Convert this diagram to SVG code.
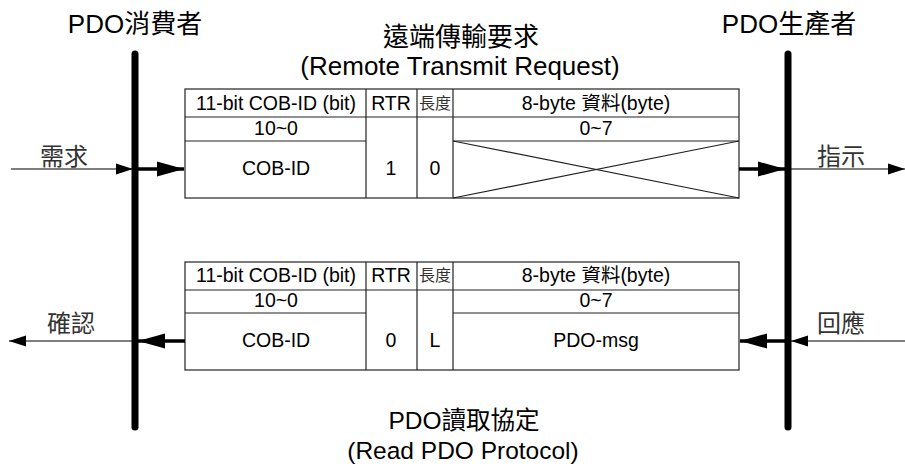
<svg xmlns="http://www.w3.org/2000/svg" width="905" height="466" viewBox="0 0 905 466">
<style>
text{font-family:"Liberation Sans","Noto Sans CJK TC",sans-serif;fill:#000}
.t{font-size:26px;text-anchor:middle}
.tb{font-size:24.5px;text-anchor:middle}
.c{font-size:24px;fill:#333}
.cell{font-size:19.5px;text-anchor:middle}
.sm{font-size:16px;text-anchor:middle;fill:#333}
.grid{fill:none;stroke:#222;stroke-width:1.2}
.bar{stroke:#000;stroke-width:7;stroke-linecap:round}
.thin{stroke:#000;stroke-width:1.2}
.thick{stroke:#000;stroke-width:3.5}
</style>
<defs>
<marker id="ah" markerUnits="userSpaceOnUse" markerWidth="18" markerHeight="12" refX="17" refY="6" orient="auto"><path d="M0,0.5L17,6L0,11.5z" fill="#000"/></marker>
<marker id="ahb" markerUnits="userSpaceOnUse" markerWidth="28" markerHeight="16" refX="27" refY="8" orient="auto"><path d="M0,0.5L27,8L0,15.5z" fill="#000"/></marker>
</defs>
<rect width="905" height="466" fill="#fff"/>

<g id="consumer">
<text class="t" x="135" y="33">PDO消費者</text>
<line class="bar" x1="135" y1="54" x2="135" y2="427"/>
</g>
<g id="producer">
<text class="t" x="789" y="33">PDO生產者</text>
<line class="bar" x1="788" y1="54" x2="788" y2="427"/>
</g>

<g id="title-top">
<text class="t" x="461" y="46">遠端傳輸要求</text>
<text class="t" x="460" y="75">(Remote Transmit Request)</text>
</g>
<g id="title-bottom">
<text class="tb" x="464" y="429">PDO讀取協定</text>
<text class="tb" x="463" y="459">(Read PDO Protocol)</text>
</g>

<g id="rtr-frame">
<rect class="grid" x="185" y="89" width="554" height="109"/>
<line class="grid" x1="185" y1="117" x2="739" y2="117"/>
<line class="grid" x1="185" y1="141" x2="366" y2="141"/>
<line class="grid" x1="453" y1="141" x2="739" y2="141"/>
<line class="grid" x1="366" y1="89" x2="366" y2="198"/>
<line class="grid" x1="417" y1="89" x2="417" y2="198"/>
<line class="grid" x1="453" y1="89" x2="453" y2="198"/>
<line class="grid" x1="453" y1="141" x2="739" y2="198" stroke-width="0.8"/>
<line class="grid" x1="453" y1="198" x2="739" y2="141" stroke-width="0.8"/>
<text class="cell" x="276" y="110">11-bit COB-ID (bit)</text>
<text class="cell" x="391" y="110">RTR</text>
<text class="sm" x="435" y="109">長度</text>
<text class="cell" x="596" y="110">8-byte 資料(byte)</text>
<text class="cell" x="276" y="135">10~0</text>
<text class="cell" x="596" y="135">0~7</text>
<text class="cell" x="276" y="175">COB-ID</text>
<text class="cell" x="391" y="175">1</text>
<text class="cell" x="435" y="175">0</text>
</g>

<g id="pdo-frame">
<rect class="grid" x="185" y="262" width="554" height="108"/>
<line class="grid" x1="185" y1="290" x2="739" y2="290"/>
<line class="grid" x1="185" y1="313" x2="366" y2="313"/>
<line class="grid" x1="453" y1="313" x2="739" y2="313"/>
<line class="grid" x1="366" y1="262" x2="366" y2="370"/>
<line class="grid" x1="417" y1="262" x2="417" y2="370"/>
<line class="grid" x1="453" y1="262" x2="453" y2="370"/>
<text class="cell" x="276" y="282">11-bit COB-ID (bit)</text>
<text class="cell" x="391" y="282">RTR</text>
<text class="sm" x="435" y="281">長度</text>
<text class="cell" x="596" y="282">8-byte 資料(byte)</text>
<text class="cell" x="276" y="307">10~0</text>
<text class="cell" x="596" y="307">0~7</text>
<text class="cell" x="276" y="347">COB-ID</text>
<text class="cell" x="391" y="347">0</text>
<text class="cell" x="435" y="347">L</text>
<text class="cell" x="596" y="347">PDO-msg</text>
</g>

<g id="labels">
<text class="c" x="40" y="165">需求</text>
<text class="c" x="817" y="165">指示</text>
<text class="c" x="47" y="332">確認</text>
<text class="c" x="817" y="332">回應</text>
</g>

<g id="connectors">
<line class="thin" x1="11" y1="169" x2="133" y2="169" marker-end="url(#ah)"/>
<line class="thick" x1="138" y1="169" x2="184" y2="169" marker-end="url(#ahb)"/>
<line class="thick" x1="739" y1="169" x2="785" y2="169" marker-end="url(#ahb)"/>
<line class="thin" x1="791" y1="169" x2="905" y2="169" marker-end="url(#ah)"/>
<line class="thin" x1="132" y1="341" x2="9" y2="341" marker-end="url(#ah)"/>
<line class="thick" x1="185" y1="341" x2="138" y2="341" marker-end="url(#ahb)"/>
<line class="thick" x1="785" y1="341" x2="740" y2="341" marker-end="url(#ahb)"/>
<line class="thin" x1="905" y1="341" x2="791" y2="341" marker-end="url(#ah)"/>
</g>
</svg>
